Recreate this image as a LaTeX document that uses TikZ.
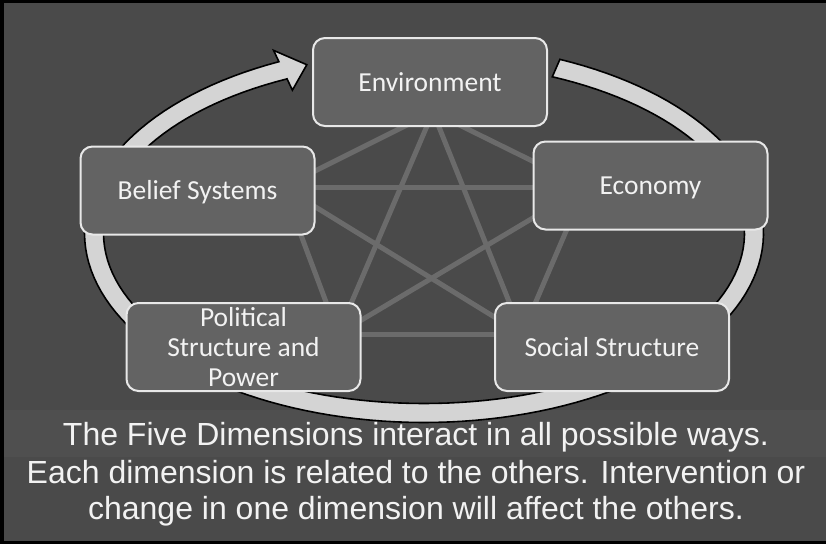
\documentclass[tikz,border=0pt]{standalone}
\usepackage{fontspec}
\setmainfont{Liberation Sans}
\newfontfamily\boxfont{Carlito}
\definecolor{bgc}{HTML}{4A4A4A}
\definecolor{bandc}{HTML}{4F4F4F}
\definecolor{boxfill}{HTML}{636363}
\definecolor{boxline}{HTML}{E8E8E8}
\definecolor{linkc}{HTML}{6B6B6B}
\definecolor{ringc}{HTML}{D4D4D4}
\definecolor{txt}{HTML}{F2F2F2}
\tikzset{
  dimbox/.style={draw=boxline, fill=boxfill, line width=2pt, rounded corners=12pt,
    minimum width=234pt, minimum height=88pt, inner sep=0pt, text=txt,
    font=\boxfont\fontsize{27.5}{30}\selectfont, align=center},
  oneline/.style={text height=18pt, text depth=0pt},
  link/.style={draw=linkc, line width=5pt},
  caption/.style={text=txt, font=\fontsize{32}{37}\selectfont, anchor=base, inner sep=0pt}
}
\begin{document}
\begin{tikzpicture}[x=1pt,y=-1pt]
\useasboundingbox (0,0) rectangle (826,544);
\fill[black] (0,0) rectangle (826,544);
\fill[bgc] (4,3) rectangle (826,541);
\fill[bandc] (4,410) rectangle (826,457);
% cycle arrow
\filldraw[fill=ringc, draw=black, line width=1.6pt, line join=miter]
  plot[domain=0:311.1, samples=140, variable=\u] ({424+339.5*cos(66.4-\u)}, {233-189.5*sin(66.4-\u)})
  -- ({424+352*cos(-244.7)}, {233-202*sin(-244.7)})
  -- ({424+330*cos(-249.2)}, {233-180*sin(-249.2)})
  -- ({424+308*cos(-244.7)}, {233-158*sin(-244.7)})
  -- plot[domain=0:311.1, samples=140, variable=\u] ({424+320.5*cos(-244.7+\u)}, {233-170.5*sin(-244.7+\u)})
  -- cycle;
% pentagram vertices (hidden under boxes)
\coordinate (vT) at (433,112);
\coordinate (vUL) at (283,187);
\coordinate (vUR) at (585,187);
\coordinate (vLL) at (338,334);
\coordinate (vLR) at (522,334);
\draw[link] (vT) -- (vUL);
\draw[link] (vT) -- (vUR);
\draw[link] (vT) -- (vLL);
\draw[link] (vT) -- (vLR);
\draw[link] (vUL) -- (vUR);
\draw[link] (vUL) -- (vLL);
\draw[link] (vUL) -- (vLR);
\draw[link] (vUR) -- (vLL);
\draw[link] (vUR) -- (vLR);
\draw[link] (vLL) -- (vLR);
% boxes
\node[dimbox, oneline] (env) at (430,82) {Environment};
\node[dimbox, oneline] (belief) at (197.5,190.5) {Belief Systems};
\node[dimbox, oneline] (econ) at (650.5,185.5) {Economy};
\node[dimbox] (pol) at (243.5,347) {Political\\Structure and\\Power};
\node[dimbox, oneline] (soc) at (612,347) {Social Structure};
% caption
\node[caption] (cap1) at (416,445) {The Five Dimensions interact in all possible ways.};
\node[caption] (cap2) at (416,483) {Each dimension is related to the others. Intervention or};
\node[caption] (cap3) at (416,519) {change in one dimension will affect the others.};
\end{tikzpicture}
\end{document}
